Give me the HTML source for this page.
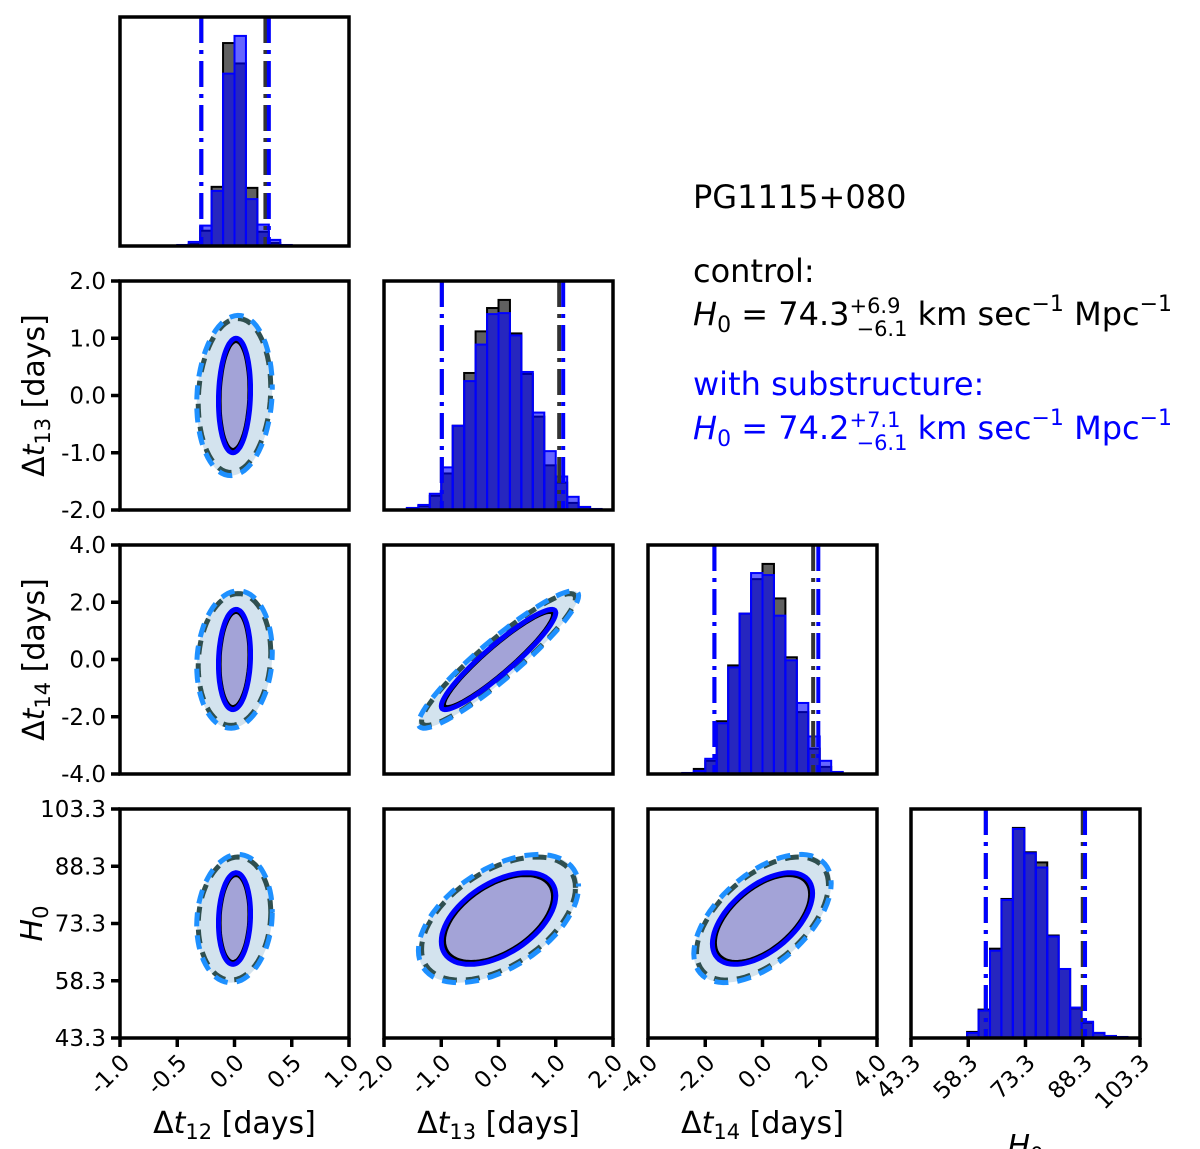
<!DOCTYPE html>
<html><head><meta charset="utf-8"><style>
html,body{margin:0;padding:0;background:#fff;}
svg{display:block;font-family:"DejaVu Sans","Liberation Sans",sans-serif;}
</style></head><body>
<svg id="fig" width="1200" height="1149" viewBox="0 0 1200 1149" xmlns="http://www.w3.org/2000/svg">
<g id="panels"></g>
<g font-size="32">
<text x="693" y="208" fill="#000">PG1115+080</text>
<text x="693" y="282" fill="#000">control:</text>
<text x="693" y="325" fill="#000"><tspan font-style="italic">H</tspan><tspan font-size="22" dy="7">0</tspan><tspan dy="-7"> = 74.3</tspan><tspan font-size="21" dy="-12">+6.9</tspan><tspan font-size="21" dx="-44" dy="23">−6.1</tspan><tspan dy="-11"> km sec</tspan><tspan font-size="22" dy="-14">−1</tspan><tspan dy="14"> Mpc</tspan><tspan font-size="22" dy="-14">−1</tspan></text>
<text x="693" y="395" fill="#0000ff">with substructure:</text>
<text x="693" y="439" fill="#0000ff"><tspan font-style="italic">H</tspan><tspan font-size="22" dy="7">0</tspan><tspan dy="-7"> = 74.2</tspan><tspan font-size="21" dy="-12">+7.1</tspan><tspan font-size="21" dx="-44" dy="23">−6.1</tspan><tspan dy="-11"> km sec</tspan><tspan font-size="22" dy="-14">−1</tspan><tspan dy="14"> Mpc</tspan><tspan font-size="22" dy="-14">−1</tspan></text>
</g>
</svg>
<script>
// ---- data ----
const varNames = ['dt12','dt13','dt14','H0'];
const axisMin = [-1, -2, -4, 43.3];
const axisMax = [1, 2, 4, 103.3];
const tickVals = [[-1,-0.5,0,0.5,1],[-2,-1,0,1,2],[-4,-2,0,2,4],[43.3,58.3,73.3,88.3,103.3]];
const tickLabels = [['-1.0','-0.5','0.0','0.5','1.0'],['-2.0','-1.0','0.0','1.0','2.0'],['-4.0','-2.0','0.0','2.0','4.0'],['43.3','58.3','73.3','88.3','103.3']];
const means = [0.0, 0.0, 0.0, 74.6];
const innerWidth = [0.14, 1.0, 1.75, 12];
const outerWidth = [0.33, 1.4, 2.4, 16.8];
const controlScale = 0.96;
const corr = [[1,0.1,0.1,0.1],[0.1,1,0.93,0.5],[0.1,0.93,1,0.55],[0.1,0.5,0.55,1]];
// histograms
const binStart = [-0.5, -1.6, -2.8, 58];
const binWidth = [0.1, 0.2, 0.4, 3];
const histSub = [
 [1,4,20,54,169,206,46,21,6,1],
 [2,5,16,42,83,127,163,193,194,172,136,96,58,33,13,3,1],
 [1,3,15,50,105,158,198,196,156,112,70,37,13,2],
 [5,27,86,136,206,182,168,100,68,30,16,5,2,1]];
const histCtrl = [
 [0,2,15,58,199,179,57,14,3,0,0],
 [2,4,14,36,83,135,176,199,207,174,134,92,44,27,7,3,1],
 [1,5,13,52,107,158,192,207,173,115,61,25,7,2],
 [6,28,88,137,207,183,173,101,68,29,15,5,2,1]];
const ciCtrl = [[-0.29,0.27],[-0.99,1.06],[-1.68,1.77],[62.9,88.3]];
const ciSub = [[-0.29,0.30],[-0.99,1.13],[-1.68,1.95],[62.9,88.9]];
const subs = ['12','13','14','0'];

// ---- layout ----
const NS='http://www.w3.org/2000/svg';
const colX=[120,384,648,911], rowY=[17,281,545,809], W=229, H=229;
const root=document.getElementById('panels');
function mk(tag,attrs,parent){const e=document.createElementNS(NS,tag);for(const k in attrs)e.setAttribute(k,attrs[k]);(parent||root).appendChild(e);return e;}
function sx(i,v){return colX[i]+(v-axisMin[i])/(axisMax[i]-axisMin[i])*W;}
function sy(row,i,v){return rowY[row]+H-(v-axisMin[i])/(axisMax[i]-axisMin[i])*H;}

function ellipsePath(i,j,row,wi,wj,scale){
  const r=corr[i][j];let d='';
  for(let k=0;k<=72;k++){const t=k/72*2*Math.PI;
    const x=means[i]+scale*wi[i]*Math.cos(t);
    const y=means[j]+scale*wj[j]*(r*Math.cos(t)+Math.sqrt(1-r*r)*Math.sin(t));
    d+=(k?'L':'M')+sx(i,x).toFixed(1)+','+sy(row,j,y).toFixed(1);}
  return d+'Z';
}

for(let row=0;row<4;row++){
  for(let col=0;col<=row;col++){
    const g=mk('g',{});
    
    
    const cid='clip'+row+col;
    const cp=mk('clipPath',{id:cid},g);mk('rect',{x:colX[col],y:rowY[row],width:W,height:H},cp);
    const inner=mk('g',{'clip-path':'url(#'+cid+')'},g);
    if(col===row){
      const i=col;
      const all=histSub[i].concat(histCtrl[i]);const ymax=Math.max(...all)*1.09;
      const hy=v=>rowY[row]+H-v/ymax*H;
      histCtrl[i].forEach((c,b)=>{
        const x0=sx(i,binStart[i]+b*binWidth[i]),x1=sx(i,binStart[i]+(b+1)*binWidth[i]);
        const el=mk('rect',{x:x0,y:hy(c),width:x1-x0,height:rowY[row]+H-hy(c),fill:'#606060',stroke:'#000','stroke-width':2},inner);
        
        
      });
      histSub[i].forEach((c,b)=>{
        const x0=sx(i,binStart[i]+b*binWidth[i]),x1=sx(i,binStart[i]+(b+1)*binWidth[i]);
        const el=mk('rect',{x:x0,y:hy(c),width:x1-x0,height:rowY[row]+H-hy(c),fill:'rgba(0,0,255,0.6)',stroke:'#0000ff','stroke-width':2},inner);
        
        
      });
      [[ciCtrl,'#333'],[ciSub,'#0000ff']].forEach(([ci,colr])=>{
        ci[i].forEach(v=>{
          const el=mk('line',{x1:sx(i,v),x2:sx(i,v),y1:rowY[row],y2:rowY[row]+H,stroke:colr,'stroke-width':4,'stroke-dasharray':'26,7,4,7'},inner);
          
          
        });
      });
    } else {
      const i=col,j=row;
      const ctrlInner=innerWidth.map(v=>v*controlScale), ctrlOuter=outerWidth.map(v=>v*controlScale);
      let e;
      e=mk('path',{d:ellipsePath(i,j,row,outerWidth,outerWidth,1),fill:'#d3e3ee'},inner);
      
      
      e=mk('path',{d:ellipsePath(i,j,row,innerWidth,innerWidth,1),fill:'#a3a3d7'},inner);
      
      
      e=mk('path',{d:ellipsePath(i,j,row,ctrlOuter,ctrlOuter,1),fill:'none',stroke:'#2f4f4f','stroke-width':5,'stroke-dasharray':'14,9'},inner);
      
      
      e=mk('path',{d:ellipsePath(i,j,row,outerWidth,outerWidth,1),fill:'none',stroke:'#1e90ff','stroke-width':5,'stroke-dasharray':'14,9','stroke-dashoffset':11},inner);
      
      
      e=mk('path',{d:ellipsePath(i,j,row,ctrlInner,ctrlInner,1),fill:'none',stroke:'#000','stroke-width':5},inner);
      
      
      e=mk('path',{d:ellipsePath(i,j,row,innerWidth,innerWidth,1),fill:'none',stroke:'#0000ff','stroke-width':5},inner);
      
      
    }
    const fr=mk('rect',{x:colX[col],y:rowY[row],width:W,height:H,fill:'none',stroke:'#000','stroke-width':3.5},g);
    
    
  }
}
// x ticks bottom row
for(let col=0;col<4;col++){
  const yb=rowY[3]+H;
  tickVals[col].forEach((v,k)=>{
    const x=sx(col,v);
    const t=mk('line',{x1:x,x2:x,y1:yb,y2:yb+9,stroke:'#000','stroke-width':3.5});
    
    
    const ax=x+11, ay=yb+26;
    const lb=mk('text',{x:ax,y:ay,'font-size':23,'text-anchor':'end',transform:'rotate(-45 '+ax+' '+ay+')'});
    lb.textContent=tickLabels[col][k];
    
    
  });
  const tt=mk('text',{x:colX[col]+W/2,y:col===3?1156:1133,'font-size':30,'text-anchor':'middle'});
  tt.innerHTML=(col===3?'<tspan font-style="italic">H</tspan>':'Δ<tspan font-style="italic">t</tspan>')+'<tspan font-size="21" dy="6">'+subs[col]+'</tspan>'+(col===3?'':'<tspan dy="-6"> [days]</tspan>');
  
  
}
// y ticks left column
for(let row=1;row<4;row++){
  tickVals[row].forEach((v,k)=>{
    const y=sy(row,row,v);
    const t=mk('line',{x1:colX[0]-9,x2:colX[0],y1:y,y2:y,stroke:'#000','stroke-width':3.5});
    
    
    const lb=mk('text',{x:colX[0]-14,y:y+8,'font-size':23,'text-anchor':'end'});
    lb.textContent=tickLabels[row][k];
    
    
  });
  const cy=rowY[row]+H/2, cx=row===3?42:44;
  const tt=mk('text',{x:cx,y:cy,'font-size':30,'text-anchor':'middle',transform:'rotate(-90 '+cx+' '+cy+')'});
  tt.innerHTML=(row===3?'<tspan font-style="italic">H</tspan>':'Δ<tspan font-style="italic">t</tspan>')+'<tspan font-size="21" dy="6">'+subs[row]+'</tspan>'+(row===3?'':'<tspan dy="-6"> [days]</tspan>');
  
  
}
</script>
</body></html>
